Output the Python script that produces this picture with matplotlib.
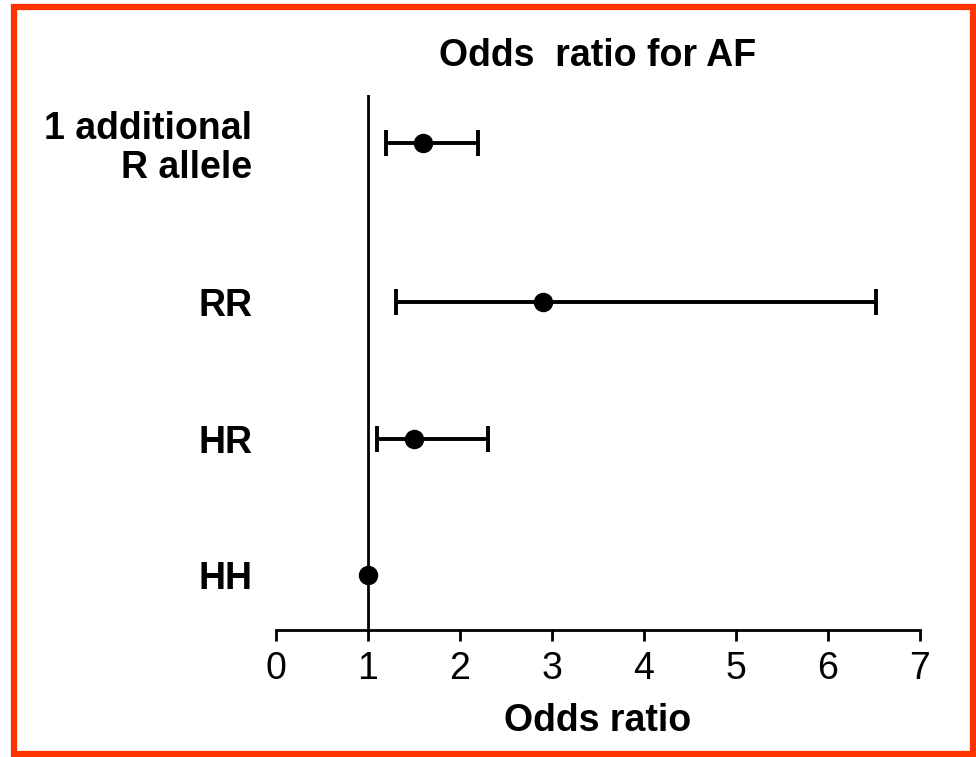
import matplotlib
matplotlib.use("Agg")
import matplotlib.pyplot as plt
from matplotlib.patches import Rectangle

categories = ["1 additional\nR allele", "RR", "HR", "HH"]
y_pos = [3.17, 2.0, 1.0, 0.0]
odds = [1.60, 2.90, 1.50, 1.00]
ci_low = [1.20, 1.30, 1.10, 1.00]
ci_high = [2.20, 6.52, 2.30, 1.00]
xticks = [0, 1, 2, 3, 4, 5, 6, 7]

plt.rcParams['font.family'] = ['Liberation Sans', 'DejaVu Sans']

fig = plt.figure(figsize=(9.76, 7.57), dpi=100)
ax = fig.add_axes([0.2828, 0.1678, 0.9426 - 0.2828, 0.8745 - 0.1678])

for y, o, lo, hi in zip(y_pos, odds, ci_low, ci_high):
    if hi > lo:
        ax.errorbar(o, y, xerr=[[o - lo], [hi - o]], fmt='none', ecolor='black',
                    elinewidth=2.8, capsize=9.5, capthick=2.8, zorder=2)
    ax.plot(o, y, 'o', color='black', markersize=13, zorder=3)

ax.axvline(1, color='black', linewidth=2.0, zorder=1)

ax.set_xlim(0, 7)
ax.set_ylim(-0.40, 3.52)
ax.set_xticks(xticks)
ax.set_xticklabels([str(t) for t in xticks], fontsize=27)
ax.set_yticks(y_pos)
ax.set_yticklabels(categories, fontsize=27, fontweight='bold', linespacing=1.1)
ax.tick_params(axis='y', length=0, pad=17)
ax.tick_params(axis='x', length=8, width=2.0, pad=7)
for s in ['top', 'right', 'left']:
    ax.spines[s].set_visible(False)
ax.spines['bottom'].set_linewidth(2.0)
ax.spines['bottom'].set_bounds(0, 7)

ax.set_xlabel("Odds ratio", fontsize=27, fontweight='bold', labelpad=12)
ax.set_title("Odds  ratio for AF", fontsize=27, fontweight='bold', pad=21)

fig.patches.append(Rectangle((0.01434, 0.004), 0.9969 - 0.01434, 0.9908 - 0.004,
                             transform=fig.transFigure, fill=False,
                             edgecolor='#ff3300', linewidth=4.5))

fig.savefig("out.png", dpi=100, facecolor='white')
